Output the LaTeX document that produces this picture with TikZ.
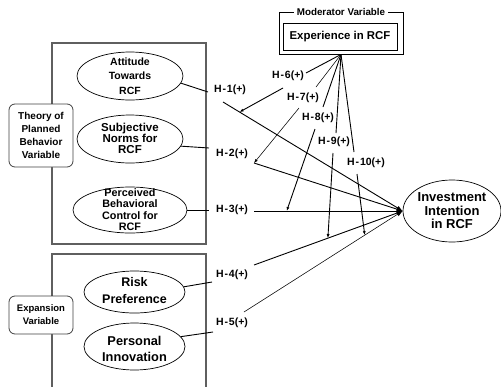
\documentclass[tikz,border=0pt]{standalone}
\usepackage{fontspec}
\setmainfont{Liberation Sans}
\usetikzlibrary{shapes.geometric,arrows.meta,calc}
\definecolor{boxgray}{RGB}{95,95,95}
\begin{document}
\begin{tikzpicture}[x=1pt,y=-1pt,
  bigbox/.style={draw=boxgray,line width=1.4pt},
  ell/.style={draw,ellipse,inner sep=0pt,line width=0.7pt},
  txt/.style={align=center,inner sep=0pt},
  rbox/.style={draw=black!75,rounded corners=6pt,fill=white,line width=0.8pt,align=center,inner sep=0pt},
  hl/.style={font=\fontsize{10.5}{12}\selectfont\bfseries,inner sep=0pt},
  conn/.style={line width=0.9pt},
  thinconn/.style={line width=0.55pt},
  toinv/.style={-{Latex[length=6pt,width=4.5pt]}},
  modarr/.style={-{Latex[length=4pt,width=3pt]}}]
\useasboundingbox (0,0) rectangle (501,386);
\newcommand\hlab[1]{H\kern1pt-\kern0.8pt#1(+)}

% frames
\draw[bigbox] (52,43) rectangle (206,244);
\draw[bigbox] (52,388) -- (52,254) -- (206,254) -- (206,388);

% side boxes
\node[rbox,minimum width=64pt,minimum height=63pt,font=\fontsize{10}{13}\selectfont\bfseries] (tpb) at (41,135.5) {Theory of\\Planned\\Behavior\\Variable};
\node[rbox,minimum width=64pt,minimum height=38pt,font=\fontsize{9.5}{13}\selectfont\bfseries] (exp) at (41,315) {Expansion\\Variable};

% ellipses
\node[ell,minimum width=106pt,minimum height=48pt] (att) at (130,76) {};
\node[txt,font=\fontsize{10.5}{14.5}\selectfont\bfseries] (attT) at (130,76) {Attitude\\Towards\\RCF};
\node[ell,minimum width=106pt,minimum height=48pt] (sub) at (130,139) {};
\node[txt,font=\fontsize{11.5}{11}\selectfont\bfseries] (subT) at (130,138) {Subjective\\Norms for\\RCF};
\node[ell,minimum width=114pt,minimum height=46pt] (pbc) at (130,210) {};
\node[txt,font=\fontsize{10.8}{11.3}\selectfont\bfseries] (pbcT) at (130,209.5) {Perceived\\Behavioral\\Control for\\RCF};
\node[ell,minimum width=101pt,minimum height=42pt] (risk) at (134.5,292) {};
\node[txt,font=\fontsize{12.5}{16.5}\selectfont\bfseries] (riskT) at (134.5,290.5) {Risk\\Preference};
\node[ell,minimum width=101pt,minimum height=47pt] (inno) at (134.5,346.5) {};
\node[txt,font=\fontsize{12.8}{16.5}\selectfont\bfseries] (innoT) at (134.5,349) {Personal\\Innovation};
\node[ell,minimum width=98pt,minimum height=62pt] (inv) at (452,211) {};
\node[txt,font=\fontsize{13}{13.5}\selectfont\bfseries] (invT) at (452,211) {Investment\\Intention\\in RCF};

% moderator
\node[draw,line width=0.9pt,minimum width=124pt,minimum height=42pt] (mod) at (341,33) {};
\node[fill=white,inner xsep=3pt,inner ysep=1pt,font=\fontsize{9.8}{11}\selectfont\bfseries] (modT) at (341,12) {Moderator Variable};
\node[draw,line width=0.9pt,minimum width=114pt,minimum height=27pt,inner sep=0pt,font=\fontsize{11.4}{13}\selectfont\bfseries] (expr) at (340,36.5) {Experience in RCF};

% hypothesis labels
\node[hl] (h1) at (230,90) {\hlab{1}};
\node[hl] (h2) at (232,154) {\hlab{2}};
\node[hl] (h3) at (232,210) {\hlab{3}};
\node[hl] (h4) at (232,275) {\hlab{4}};
\node[hl] (h5) at (232,323) {\hlab{5}};
\node[hl] (h6) at (288,76) {\hlab{6}};
\node[hl] (h7) at (303,98) {\hlab{7}};
\node[hl] (h8) at (318,118) {\hlab{8}};
\node[hl] (h9) at (334,142) {\hlab{9}};
\node[hl] (h10) at (366,163) {\hlab{10}};

% coordinates
\coordinate (h1l) at (208,92);
\coordinate (h2l) at (209,148);
\coordinate (h3l) at (209,210);
\coordinate (h4l) at (212,282);
\coordinate (h5l) at (213,332);
\coordinate (h1s) at (223,102);
\coordinate (h2s) at (254,163);
\coordinate (h3s) at (254,211);
\coordinate (h4s) at (254,265);
\coordinate (h5s) at (244,312);
\coordinate (m6a) at (306,73);
\coordinate (m7a) at (316,87);
\coordinate (m8a) at (323,107);
\coordinate (m9a) at (336,133);
\coordinate (m10a) at (354,152);
\coordinate (m6b) at (283,88);
\coordinate (m7b) at (299,108);
\coordinate (m8b) at (315,129);
\coordinate (m9b) at (333,153);
\coordinate (m10b) at (357,174);

% ellipse to labels
\draw[conn] (att.-8) -- (h1l);
\draw[conn] (sub.-8) -- (h2l);
\draw[conn] (pbc.east) -- (h3l);
\draw[conn] (risk.6) -- (h4l);
\draw[conn] (inno.12) -- (h5l);

% to investment
\draw[conn,toinv] (h1s) -- (inv.west);
\draw[conn,toinv] (h2s) -- (inv.west);
\draw[conn,toinv] (h3s) -- (inv.west);
\draw[conn,toinv] (h4s) -- (inv.west);
\draw[thinconn,toinv] (h5s) -- (inv.west);

% moderator lines
\draw[conn] (mod.south) -- (m6a);
\draw[thinconn] (mod.south) -- (m7a);
\draw[conn] (mod.south) -- (m8a);
\draw[conn] (mod.south) -- (m9a);
\draw[conn] (mod.south) -- (m10a);
\draw[conn,modarr] (m6b) -- ($(h1s)!0.092!(inv.west)$);
\draw[thinconn,modarr] (m7b) -- (h2s);
\draw[conn,modarr] (m8b) -- ($(h3s)!0.22!(inv.west)$);
\draw[conn,modarr] (m9b) -- ($(h4s)!0.497!(inv.west)$);
\draw[conn,modarr] (m10b) -- ($(h5s)!0.761!(inv.west)$);
\end{tikzpicture}
\end{document}
